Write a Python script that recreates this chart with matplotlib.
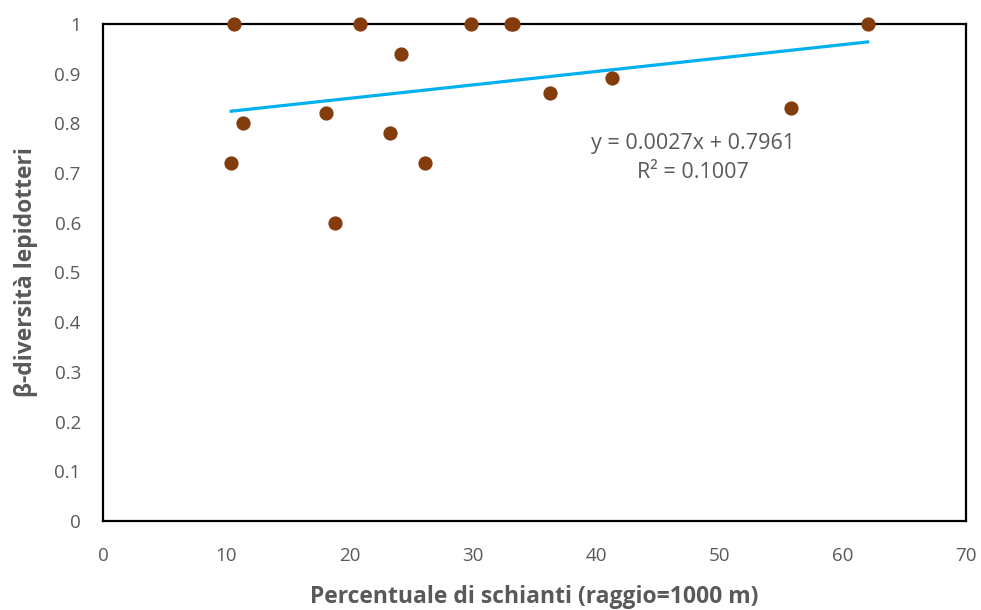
import numpy as np
import matplotlib.pyplot as plt

# percentuale di schianti (raggio 1000 m) vs beta-diversita lepidotteri
schianti = [10.6, 10.4, 11.35, 18.1, 18.8, 20.8, 23.3, 24.2, 26.1, 29.8, 33.05, 33.25, 36.25, 41.3, 55.8, 62.0]
beta_div = [1.0, 0.72, 0.80, 0.82, 0.60, 1.0, 0.78, 0.94, 0.72, 1.0, 1.0, 1.0, 0.86, 0.89, 0.83, 1.0]

slope, intercept = 0.0027, 0.7961
r2 = 0.1007

x_ticks = [0, 10, 20, 30, 40, 50, 60, 70]
y_ticks = [0, 0.1, 0.2, 0.3, 0.4, 0.5, 0.6, 0.7, 0.8, 0.9, 1]
y_ticklabels = ['0', '0.1', '0.2', '0.3', '0.4', '0.5', '0.6', '0.7', '0.8', '0.9', '1']

plt.rcParams['font.family'] = ['Open Sans', 'DejaVu Sans']
grey = '#595959'

fig = plt.figure(figsize=(9.81, 6.10), dpi=100)
ax = fig.add_axes([0.105, 0.146, 0.880, 0.815])

xs = np.array([min(schianti), max(schianti)])
ax.plot(xs, slope * xs + intercept, color='#00B0F0', lw=2.3, zorder=3)
ax.scatter(schianti, beta_div, s=105, color='#843C0C', zorder=4, clip_on=False, linewidths=0)

ax.set_xlim(0, 70)
ax.set_ylim(0, 1)
ax.set_xticks(x_ticks)
ax.set_yticks(y_ticks)
ax.set_yticklabels(y_ticklabels)
ax.tick_params(length=0, labelsize=13.5, labelcolor=grey)
ax.tick_params(axis='x', pad=19)
ax.tick_params(axis='y', pad=16)
for s in ax.spines.values():
    s.set_color('black')
    s.set_linewidth(1.6)

ax.set_xlabel('Percentuale di schianti (raggio=1000 m)', fontsize=16.5, fontweight='bold', color=grey, labelpad=14)
ax.set_ylabel('β-diversità lepidotteri', fontsize=16.5, fontweight='bold', color=grey, labelpad=12)

ax.text(47.85, 0.76, f'y = {slope}x + {intercept}', ha='center', va='center', fontsize=15.5, color=grey)
ax.text(47.85, 0.70, f'R² = {r2}', ha='center', va='center', fontsize=15.5, color=grey)

fig.savefig('out.png', dpi=100)
